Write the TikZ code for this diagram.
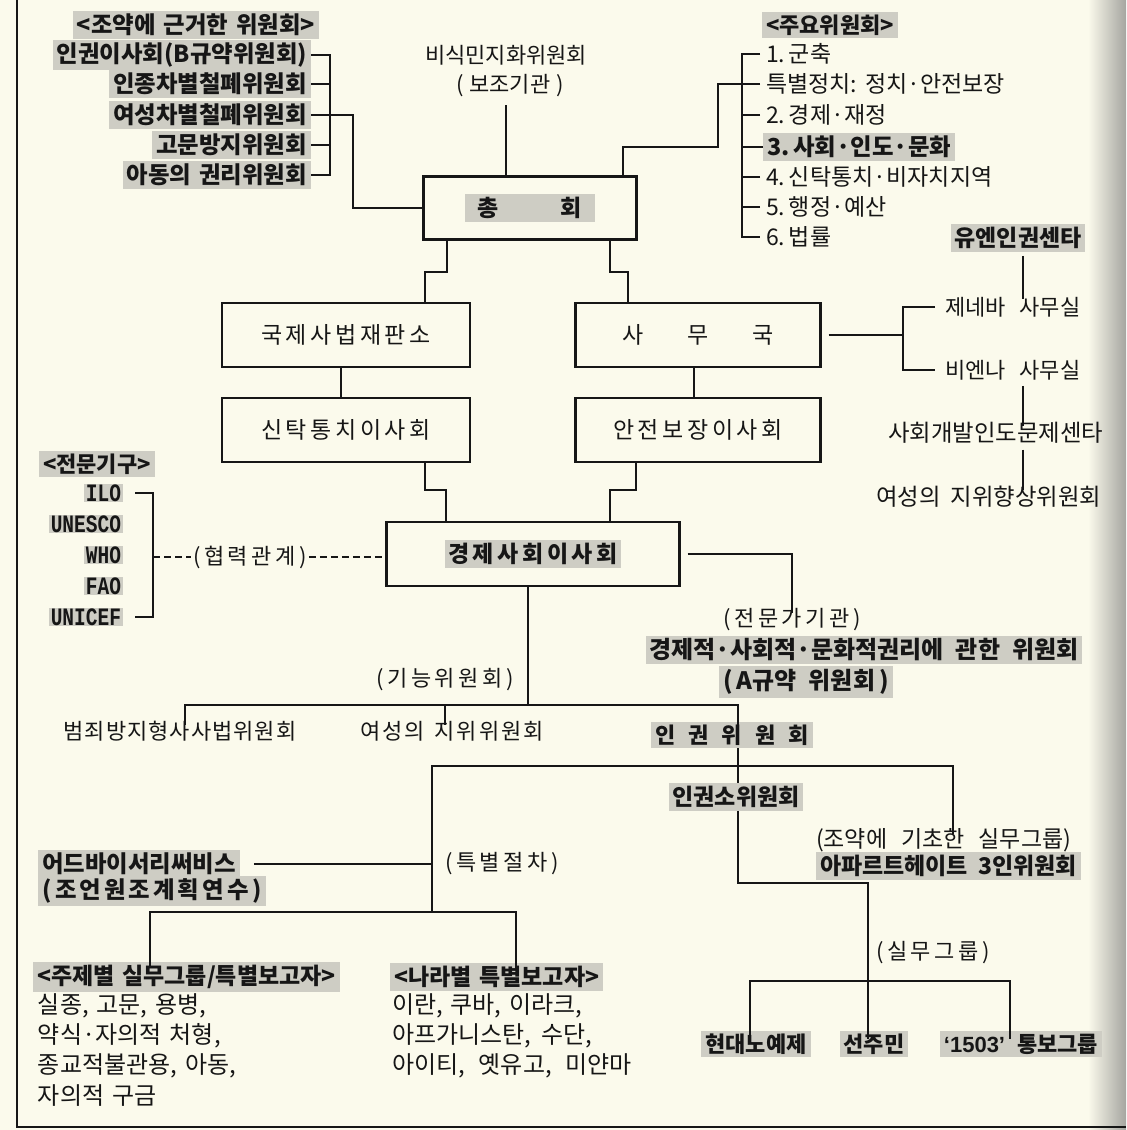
\documentclass[tikz,border=0pt]{standalone}
\usepackage{fontspec}
\usepackage{graphicx}
\setmainfont{Noto Sans CJK KR}
\newfontfamily\monof{Liberation Mono}
\newfontfamily\latf{Liberation Sans}
\usetikzlibrary{calc}
\definecolor{bgc}{RGB}{251,250,236}
\definecolor{hlc}{RGB}{206,205,196}
\definecolor{ink}{RGB}{22,22,22}
\definecolor{shadec}{RGB}{165,165,160}
\newcommand\ks{\hspace{1.8pt}}
\newcommand\kk{\kern0.5pt}
\newcommand\kb{\kern1.5pt}
\newcommand\graybg[1]{{\setlength{\fboxsep}{1.5pt}\colorbox{hlc}{#1}}}
\begin{document}
\begin{tikzpicture}[x=0.5pt,y=-0.5pt,
  every node/.style={inner sep=1pt, outer sep=0pt, text=ink},
  txt/.style={font=\fontsize{11}{13}\selectfont},
  txtm/.style={font=\fontsize{11.5}{13.5}\selectfont},
  txtl/.style={font=\fontsize{12}{14}\selectfont},
  lt/.style={txtm, inner xsep=3pt},
  hl/.style={fill=hlc, inner xsep=2pt, inner ysep=1.5pt, font=\fontsize{11}{13}\selectfont\bfseries},
  hlb/.style={hl, font=\fontsize{11.5}{13.5}\selectfont\bfseries},
  hlc/.style={hl, font=\fontsize{11.7}{13.7}\selectfont\bfseries},
  orgbox/.style={draw=ink, line width=1.3pt, font=\fontsize{11.5}{13.5}\selectfont},
  conn/.style={draw=ink, line width=0.9pt},
  thinl/.style={draw=ink, line width=0.6pt},
  dashl/.style={thinl, dash pattern=on 3.5pt off 2pt},
  mono/.style={fill=hlc, inner xsep=1pt, inner ysep=0.5pt, font=\fontsize{12.5}{14}\selectfont\monof\bfseries},
  pageline/.style={draw=ink, line width=1.1pt}
]
\fill[bgc] (0,0) rectangle (1126,1130);
\shade[left color=bgc, right color=shadec] (1088,0) rectangle (1126,1130);
\useasboundingbox (0,0) rectangle (1126,1130);
\draw[pageline] (17,0) -- (17,1127) -- (1126,1127);

% ---------- boxes ----------
\node[orgbox, minimum width=106.5pt, minimum height=31.5pt] (gen) at (530,208) {\graybg{\bfseries\hspace{5pt}총\hspace{31pt}회\hspace{5pt}}};
\node[orgbox, minimum width=124pt, minimum height=32pt] (icj) at (346,335) {국\ks 제\ks 사\ks 법\ks 재\ks 판\ks 소};
\node[orgbox, minimum width=122.5pt, minimum height=32pt] (sec) at (698,335) {사\hspace{22pt}무\hspace{22pt}국};
\node[orgbox, minimum width=124pt, minimum height=32pt] (tru) at (346,430) {신\ks 탁\ks 통\ks 치\ks 이\ks 사\ks 회};
\node[orgbox, minimum width=122.5pt, minimum height=32pt] (scc) at (698,430) {안\ks 전\ks 보\ks 장\ks 이\ks 사\ks 회};
\node[orgbox, minimum width=146.5pt, minimum height=32pt] (eco) at (533,554) {\graybg{\bfseries 경\ks 제\ks 사\ks 회\ks 이\ks 사\ks 회}};

% ---------- top left ----------
\node[hlc] (tlh) at (196,25) {<조약에\hspace{4pt}근거한\hspace{4pt}위원회>};
\node[hlc,anchor=east] (a1) at (311,55) {인권이사회(B규약위원회)};
\node[hlc,anchor=east] (a2) at (311,84) {인종차별철폐위원회};
\node[hlc,anchor=east] (a3) at (311,115) {여성차별철폐위원회};
\node[hlc,anchor=east] (a4) at (311,145) {고문방지위원회};
\node[hlc,anchor=east] (a5) at (311,175) {아동의\hspace{4pt}권리위원회};

% ---------- top centre ----------
\node[txt] (dec1) at (506,55) {비식민지화위원회};
\node[txt] (dec2) at (510,86) {(\hspace{3pt}보조기관\hspace{3pt})};

% ---------- top right ----------
\node[hl] (mh) at (830,25) {<주요위원회>};
\node[lt,anchor=west] (m1) at (760,54) {1.\,군축};
\node[lt,anchor=west] (m2) at (760,84) {특별정치:\hspace{4pt}정치·안전보장};
\node[lt,anchor=west] (m3) at (760,115) {2.\,경제·재정};
\node[hlc,anchor=west] (m4) at (763,147) {3.\,사회·인도·문화};
\node[lt,anchor=west] (m5) at (760,177) {4.\,신탁통치·비자치지역};
\node[lt,anchor=west] (m6) at (760,207) {5.\,행정·예산};
\node[lt,anchor=west] (m7) at (760,237) {6.\,법률};

% ---------- right middle ----------
\node[hlb] (un) at (1018,238) {유엔인권센타};
\node[txt,anchor=west,inner xsep=5pt] (gv) at (935,307) {제네바\hspace{7pt}사무실};
\node[txt,anchor=west,inner xsep=5pt] (vn) at (935,370) {비엔나\hspace{7pt}사무실};
\node[txtm,font=\fontsize{11.7}{13.7}\selectfont,anchor=west] (sd) at (886,433) {사회개발인도문제센타};
\node[txtm,font=\fontsize{11.7}{13.7}\selectfont,anchor=west] (ws) at (874,497) {여성의\hspace{5pt}지위향상위원회};

% ---------- left middle ----------
\node[hl,anchor=west] (spc) at (39,464) {<전문기구>};
\node[mono,anchor=east] (ilo) at (123,493) {\scalebox{0.78}[1]{ILO}};
\node[mono,anchor=east] (unesco) at (123,524) {\scalebox{0.78}[1]{UNESCO}};
\node[mono,anchor=east] (who) at (123,555) {\scalebox{0.78}[1]{WHO}};
\node[mono,anchor=east] (fao) at (123,586) {\scalebox{0.78}[1]{FAO}};
\node[mono,anchor=east] (unicef) at (123,617) {\scalebox{0.78}[1]{UNICEF}};
\node[txt] (coop) at (250,557) {(\,협\ks 력\ks 관\ks 계\,)};

% ---------- ECOSOC right ----------
\node[txt] (ex1) at (792,620) {(\,전\ks 문\ks 가\ks 기\ks 관\,)};
\node[hl,font=\fontsize{12}{14}\selectfont\bfseries] (ex2) at (864,650) {경제적·사회적·문화적권리에\hspace{6pt}관한\hspace{6pt}위원회};
\node[hl,font=\fontsize{12}{14}\selectfont\bfseries] (ex3) at (806,682) {(\,A규약\hspace{6pt}위원회\,)};

% ---------- functional commissions ----------
\node[txt] (fn) at (445,680) {(\,기\ks 능\ks 위\ks 원\ks 회\,)};
\node[txt] (cr) at (180,731) {범\kk 죄\kk 방\kk 지\kk 형\kk 사\kk 사\kk 법\kk 위\kk 원\kk 회};
\node[txt] (wm) at (452,731) {여\kern1pt 성\kern1pt 의\hspace{5pt}지\kern1pt 위\kern1pt 위\kern1pt 원\kern1pt 회};
\node[hl] (hr) at (732,735) {인\hspace{6.5pt}권\hspace{6.5pt}위\hspace{6.5pt}원\hspace{6.5pt}회};
\node[hlb] (hs) at (736,797) {인권소위원회};
\node[txtm,anchor=west] (tg) at (814,840) {(조약에\hspace{7pt}기초한\hspace{7pt}실무그룹)};
\node[hlb,anchor=west] (ap) at (816,866) {아파르트헤이트\hspace{5pt}3인위원회};

% ---------- special procedures ----------
\node[hlc,anchor=west] (ad1) at (38,864) {어드바이서리써비스};
\node[hlc,anchor=west] (ad2) at (38,891) {(\hspace{2pt}조\kb 언\kb 원\kb 조\kb 계\kb 획\kb 연\kb 수\hspace{2pt})};
\node[txt,anchor=west] (spp) at (443,864) {(\,특\ks 별\ks 절\ks 차\,)};
\node[hlb,anchor=west] (th) at (33,977) {<주제별\hspace{4pt}실무그룹/특별보고자>};
\node[txtl,anchor=west] (l1) at (36,1006) {실종,\hspace{4pt}고문,\hspace{4pt}용병,};
\node[txtl,anchor=west] (l2) at (36,1036) {약식·자의적\hspace{4pt}처형,};
\node[txtl,anchor=west] (l3) at (36,1066) {종교적불관용,\hspace{4pt}아동,};
\node[txtl,anchor=west] (l4) at (36,1096) {자의적\hspace{4pt}구금};
\node[hlb,anchor=west] (ct) at (390,977) {<나라별\hspace{4pt}특별보고자>};
\node[txtl,anchor=west] (r1) at (390,1006) {이란,\hspace{4pt}쿠바,\hspace{4pt}이라크,};
\node[txtl,anchor=west] (r2) at (390,1036) {아프가니스탄,\hspace{5pt}수단,};
\node[txtl,anchor=west] (r3) at (390,1066) {아이티,\hspace{7pt}옛유고,\hspace{7pt}미얀마};

% ---------- working groups ----------
\node[txt] (wg) at (933,953) {(\,실\ks 무\ks 그\ks 룹\,)};
\node[hl] (hd) at (756,1044) {현대노예제};
\node[hl] (ij) at (874,1044) {선주민};
\node[hl] (gp) at (1021,1044) {{\latf\bfseries ‘1503’}\hspace{6pt}통보그룹};

% ================= connectors =================
% treaty bodies
\draw[conn] (a1.east) -- (330,0 |- a1.east) -- (330,0 |- a5.east) -- (a5.east);
\draw[conn] (a2.east) -- (330,0 |- a2.east);
\draw[conn] (a4.east) -- (330,0 |- a4.east);
\draw[conn] (a3.east) -| (353,208) -- (gen.west);
% decolonization
\draw[thinl] (506,0 |- dec2.south) ++(0,6) -- (506,0 |- gen.north);
% main committees
\draw[thinl] (m1.west) -- (742,0 |- m1.west) -- (742,0 |- m7.west) -- (m7.west);
\foreach \n in {m2,m3,m4,m5,m6} \draw[thinl] (\n.west) -- (742,0 |- \n.west);
\draw[conn] (623,0 |- gen.north) |- (718,147) |- (m2.west);
% GA to organs
\draw[conn] (447,0 |- gen.south) |- (425,272) -- (425,0 |- icj.north);
\draw[conn] (610,0 |- gen.south) |- (628,272) -- (628,0 |- sec.north);
\draw[conn] (341,0 |- icj.south) -- (341,0 |- tru.north);
\draw[conn] (694,0 |- sec.south) -- (694,0 |- scc.north);
\draw[conn] (425,0 |- tru.south) |- (446,490) -- (446,0 |- eco.north);
\draw[conn] (636,0 |- scc.south) |- (610,490) -- (610,0 |- eco.north);
% secretariat offices
\draw[thinl] (sec.east) ++(8,0) -- (903,0 |- sec.east);
\draw[thinl] (gv.west) -| (903,0 |- vn.west) -- (vn.west);
\draw[thinl] (1023,0 |- un.south) ++(0,4) -- (1023,0 |- gv.north) -- ++(0,4);
\draw[thinl] (1023,0 |- vn.south) ++(0,4) -- (1023,0 |- sd.north) -- ++(0,6);
\draw[thinl] (1023,0 |- sd.south) ++(0,4) -- (1023,0 |- ws.north) -- ++(0,6);
% specialized agencies
\draw[thinl] (ilo.east) ++(12,0) -- (153,0 |- ilo.east) -- (153,0 |- unicef.east) -- ++(-18,0);
\draw[dashl] (153,0 |- coop.west) -- (coop.west);
\draw[dashl] (coop.east) -- (coop.east -| eco.west);
% expert body
\draw[thinl] (eco.east) ++(8,0) -| (792,0 |- ex1.north) -- ++(0,6);
% functional commissions
\draw[conn] (528,0 |- eco.south) -- (528,705);
\draw[conn] (185,0 |- cr.north) ++(0,6) |- (738,705) -- (738,0 |- hr.north) -- ++(0,4);
\draw[conn] (445,705) -- (445,0 |- wm.north) -- ++(0,6);
\draw[conn] (738,0 |- hr.south) -- (738,0 |- hs.north);
\draw[conn] (953,0 |- tg.north) ++(0,8) |- (432,766) -- (432,912);
\draw[conn] (ad1.east) ++(14,0) -- (432,0 |- ad1.east);
\draw[conn] (150,0 |- th.north) ++(0,6) |- (516,912) -- (516,0 |- ct.north) -- ++(0,6);
% working groups
\draw[conn] (738,0 |- hs.south) |- (868,883) -- (868,0 |- ij.north) -- ++(0,8);
\draw[conn] (750,0 |- hd.north) ++(0,8) |- (1010,981) -- (1010,0 |- gp.north) -- ++(0,8);
\end{tikzpicture}
\end{document}
